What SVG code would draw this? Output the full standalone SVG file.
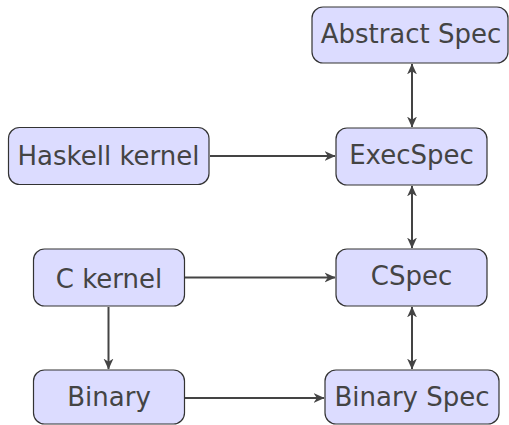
<svg xmlns="http://www.w3.org/2000/svg" width="509" height="425" viewBox="0 0 509 425">
  <style>
    .box { fill: #dcdcff; stroke: #333333; stroke-width: 1.2; }
    .lbl { font-family: "DejaVu Sans", sans-serif; font-size: 26px; fill: #444444; text-anchor: middle; }
    .edge { stroke: #444444; stroke-width: 2; fill: none; }
  </style>
  <defs>
    <marker id="head" viewBox="0 0 10 10" refX="9.5" refY="5" markerWidth="11" markerHeight="11" markerUnits="userSpaceOnUse" orient="auto-start-reverse">
      <path d="M0,0.5 L10,5 L0,9.5 L3,5 Z" fill="#444444"/>
    </marker>
  </defs>
  <rect width="509" height="425" fill="#ffffff"/>

  <g id="connectors">
    <line class="edge" x1="412" y1="64" x2="412" y2="127" marker-start="url(#head)" marker-end="url(#head)"/>
    <line class="edge" x1="210" y1="156" x2="335" y2="156" marker-end="url(#head)"/>
    <line class="edge" x1="412" y1="186" x2="412" y2="248" marker-start="url(#head)" marker-end="url(#head)"/>
    <line class="edge" x1="185" y1="277.5" x2="335" y2="277.5" marker-end="url(#head)"/>
    <line class="edge" x1="108.5" y1="307" x2="108.5" y2="369" marker-end="url(#head)"/>
    <line class="edge" x1="412" y1="307" x2="412" y2="369" marker-start="url(#head)" marker-end="url(#head)"/>
    <line class="edge" x1="185" y1="398" x2="324" y2="398" marker-end="url(#head)"/>
  </g>

  <g id="abstract-spec">
    <rect class="box" x="312" y="7" width="196" height="56" rx="11"/>
    <text class="lbl" x="411" y="43">Abstract Spec</text>
  </g>
  <g id="exec-spec">
    <rect class="box" x="336" y="128" width="151" height="57" rx="11"/>
    <text class="lbl" x="411.5" y="164">ExecSpec</text>
  </g>
  <g id="haskell-kernel">
    <rect class="box" x="8.5" y="127.5" width="200.5" height="57" rx="11"/>
    <text class="lbl" x="108.5" y="165">Haskell kernel</text>
  </g>
  <g id="c-kernel">
    <rect class="box" x="33.5" y="249" width="151" height="57" rx="11"/>
    <text class="lbl" x="109" y="288">C kernel</text>
  </g>
  <g id="cspec">
    <rect class="box" x="336" y="249" width="151" height="57" rx="11"/>
    <text class="lbl" x="411.5" y="284.5">CSpec</text>
  </g>
  <g id="binary">
    <rect class="box" x="33.5" y="370" width="151" height="54" rx="11"/>
    <text class="lbl" x="109" y="406">Binary</text>
  </g>
  <g id="binary-spec">
    <rect class="box" x="325" y="370" width="174" height="54" rx="11"/>
    <text class="lbl" x="412" y="406">Binary Spec</text>
  </g>
</svg>
